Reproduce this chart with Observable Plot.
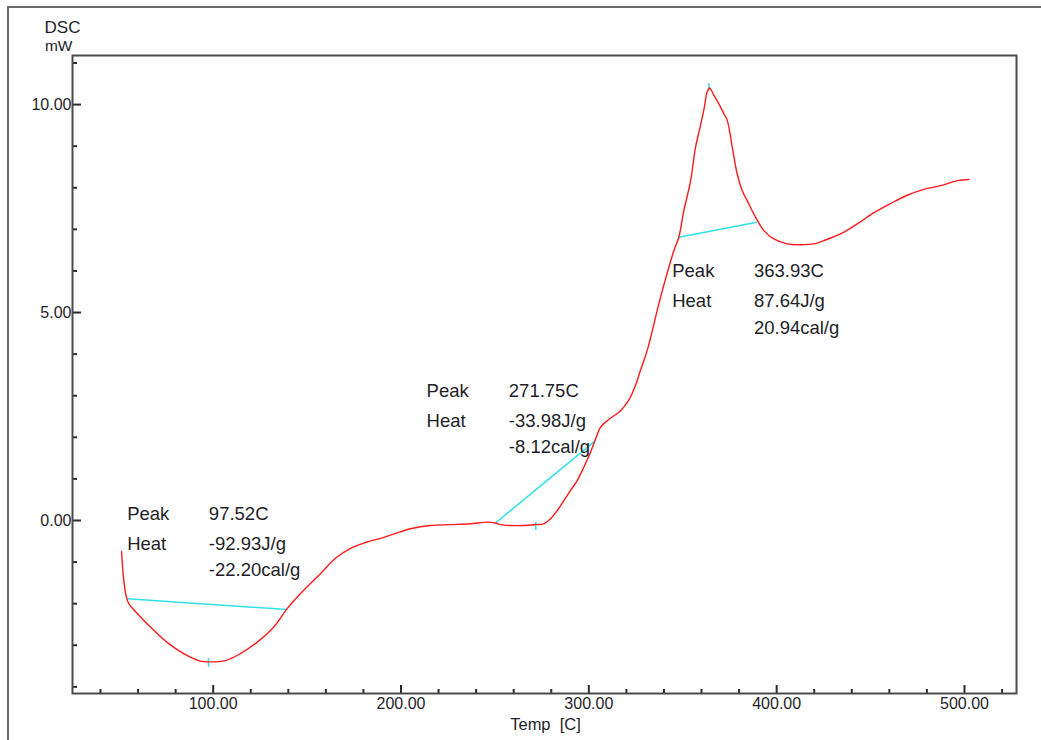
<!DOCTYPE html>
<html>
<head>
<meta charset="utf-8">
<script src="https://cdn.jsdelivr.net/npm/d3@7"></script>
<script src="https://cdn.jsdelivr.net/npm/@observablehq/plot@0.6"></script>
<style>
  html, body { margin: 0; padding: 0; background: #fff; }
  #wrap { position: relative; width: 1041px; height: 740px; overflow: hidden; }
  #border { position: absolute; left: 7px; top: 6px; right: -10px; bottom: -10px;
            border-left: 2px solid #6a6a6a; border-top: 2px solid #6a6a6a; pointer-events: none; }
  #chart svg { display: block; }
</style>
</head>
<body>
<div id="wrap"><div id="chart"></div><div id="border"></div></div>
<script>
// ---- DSC curve ----
const tempC = [51.2, 52.4, 53.8, 55.1, 61.3, 68.4, 75.5, 84.3, 93.2, 97.7, 106.5, 114.5, 123.4, 132.3, 139.4, 148.2, 157.1, 165.1, 173.1, 181.1, 189.1, 197.1, 205.1, 215.7, 226.4, 237.0, 245.9, 250.3, 253.0, 258.3, 265.4, 271.6, 276.0, 279.6, 283.2, 286.7, 290.2, 293.8, 297.3, 300.9, 303.6, 306.2, 309.8, 316.9, 321.1, 324.9, 327.5, 331.1, 338.2, 345.3, 347.9, 350.6, 354.2, 356.8, 358.6, 361.2, 363.0, 364.3, 366.6, 369.2, 371.9, 373.7, 376.4, 379.0, 381.7, 385.2, 388.8, 393.2, 398.5, 405.6, 413.0, 419.8, 425.1, 434.0, 442.9, 451.8, 460.6, 469.5, 478.4, 487.3, 496.2, 502.3];
const dscMW = [-0.745, -1.44, -1.84, -2.00, -2.32, -2.64, -2.93, -3.20, -3.38, -3.40, -3.37, -3.20, -2.93, -2.56, -2.12, -1.68, -1.28, -0.91, -0.67, -0.53, -0.43, -0.31, -0.20, -0.12, -0.10, -0.08, -0.04, -0.06, -0.10, -0.12, -0.12, -0.10, -0.08, 0.04, 0.24, 0.48, 0.72, 0.96, 1.28, 1.64, 1.96, 2.24, 2.40, 2.64, 2.88, 3.25, 3.61, 4.09, 5.37, 6.49, 6.81, 7.45, 8.17, 8.97, 9.33, 9.86, 10.30, 10.40, 10.22, 10.02, 9.78, 9.62, 8.97, 8.33, 7.93, 7.61, 7.29, 6.97, 6.77, 6.65, 6.63, 6.65, 6.73, 6.89, 7.13, 7.40, 7.62, 7.82, 7.96, 8.05, 8.17, 8.20];

// ---- baselines of the three peaks ----
const baseX1 = [54.2, 250.3, 347.9];
const baseY1 = [-1.88, -0.06, 6.81];
const baseX2 = [139.4, 303.6, 389.5];
const baseY2 = [-2.14, 1.92, 7.17];

// ---- peak markers ----
const peakTemps = [97.52, 271.75, 363.93];
const peakMarkLow = [-3.53, -0.24, 10.32];
const peakMarkHigh = [-3.32, -0.04, 10.50];

// ---- annotation texts ----
const peakText = ["97.52C", "271.75C", "363.93C"];
const heatJText = ["-92.93J/g", "-33.98J/g", "87.64J/g"];
const heatCalText = ["-22.20cal/g", "-8.12cal/g", "20.94cal/g"];
const annLabelX = [54.2, 213.6, 344.4];
const annValueX = [97.7, 257.4, 387.9];
const annBaseY = [0.017, 2.98, 5.85];

// ---- ticks ----
const xMajorTicks = [100, 200, 300, 400, 500];
const xMinorTicks = d3.range(40, 521, 20).filter(d => d % 100 !== 0);
const yMajorTicks = [0, 5, 10];
const yMinorTicks = d3.range(-4, 12, 1).filter(d => d % 5 !== 0);

const xDomain = [25.1, 527.7];
const yDomain = [-4.16, 11.18];

const W = 1041, H = 740, mL = 72, mR = 25, mT = 55, mB = 47;
const frameW = W - mL - mR, frameH = H - mT - mB;

const curve = tempC.map((t, i) => ({t, v: dscMW[i]}));
const baselines = baseX1.map((x, i) => ({x1: x, y1: baseY1[i], x2: baseX2[i], y2: baseY2[i]}));
const peaks = peakTemps.map((t, i) => ({t, lo: peakMarkLow[i], hi: peakMarkHigh[i]}));
const ann = peakText.map((p, i) => ({peak: p, j: heatJText[i], cal: heatCalText[i], lx: annLabelX[i], vx: annValueX[i], y: annBaseY[i]}));

const font = "'Liberation Sans', Arial, Helvetica, sans-serif";
const txt = "#1e1e28";
const annFont = 18.5;
const tickColor = "#2a2a2a";

const chart = Plot.plot({
  width: W,
  height: H,
  marginLeft: mL,
  marginRight: mR,
  marginTop: mT,
  marginBottom: mB,
  style: {fontFamily: font, fontSize: "16px", color: txt, background: "transparent"},
  x: {domain: xDomain},
  y: {domain: yDomain},
  marks: [
    // inward tick marks
    Plot.tickX(xMinorTicks, {x: d => d, insetTop: frameH - 4, stroke: tickColor, strokeWidth: 2}),
    Plot.tickX(xMajorTicks, {x: d => d, insetTop: frameH - 8, stroke: tickColor, strokeWidth: 2}),
    Plot.tickY(yMinorTicks, {y: d => d, insetRight: frameW - 5, stroke: tickColor, strokeWidth: 2}),
    Plot.tickY(yMajorTicks, {y: d => d, insetRight: frameW - 9, stroke: tickColor, strokeWidth: 2}),
    // tick labels
    Plot.axisX(xMajorTicks, {tickSize: 0, tickPadding: 4.6, tickFormat: d3.format(".2f"), label: null, fill: txt, fontSize: 16}),
    Plot.axisY(yMajorTicks, {tickSize: 0, tickPadding: 1, tickFormat: d3.format(".2f"), label: null, fill: txt, fontSize: 16}),
    Plot.frame({stroke: "#4a4a4a", strokeWidth: 2}),
    Plot.link(baselines, {x1: "x1", y1: "y1", x2: "x2", y2: "y2", stroke: "#30e0ea", strokeWidth: 1.5}),
    Plot.ruleX(peaks, {x: "t", y1: "lo", y2: "hi", stroke: "#30e0ea", strokeWidth: 1.5}),
    Plot.line(curve, {x: "t", y: "v", stroke: "#ff1a1a", strokeWidth: 1.4, curve: "catmull-rom"}),
    // annotations
    Plot.text(ann, {x: "lx", y: "y", text: () => "Peak", textAnchor: "start", lineAnchor: "bottom", fontSize: annFont, fill: txt}),
    Plot.text(ann, {x: "vx", y: "y", text: "peak", textAnchor: "start", lineAnchor: "bottom", fontSize: annFont, fill: txt}),
    Plot.text(ann, {x: "lx", y: "y", text: () => "Heat", dy: 30, textAnchor: "start", lineAnchor: "bottom", fontSize: annFont, fill: txt}),
    Plot.text(ann, {x: "vx", y: "y", text: "j", dy: 30, textAnchor: "start", lineAnchor: "bottom", fontSize: annFont, fill: txt}),
    Plot.text(ann, {x: "vx", y: "y", text: "cal", dy: 56.7, textAnchor: "start", lineAnchor: "bottom", fontSize: annFont, fill: txt}),
    // axis titles
    Plot.text(["DSC"], {frameAnchor: "top-left", dx: 8, dy: -23, textAnchor: "end", lineAnchor: "bottom", fontSize: 17, fill: txt}),
    Plot.text(["mW"], {frameAnchor: "top-left", dx: 0, dy: -5, textAnchor: "end", lineAnchor: "bottom", fontSize: 15.5, fill: txt}),
    Plot.text(["Temp\u00a0\u00a0[C]"], {frameAnchor: "bottom", dx: 1, dy: 36, lineAnchor: "bottom", fontSize: 16.5, fill: txt})
  ]
});
document.getElementById("chart").appendChild(chart);
</script>
</body>
</html>
